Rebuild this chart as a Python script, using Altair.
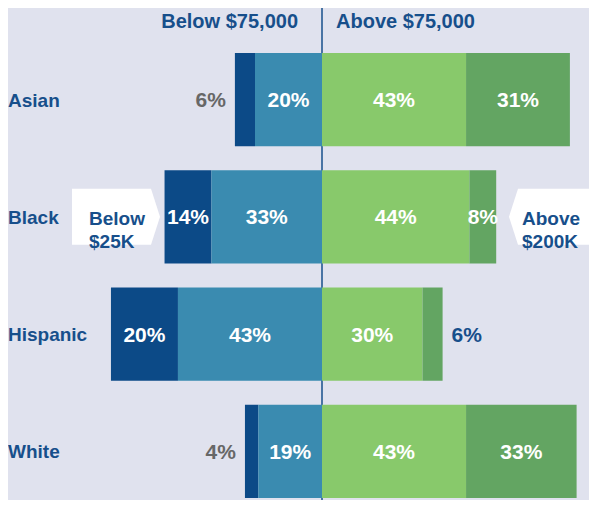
import altair as alt
import pandas as pd

# ---- data ----
groups = ["Asian", "Black", "Hispanic", "White"]
below_25k = [6, 14, 20, 4]
from_25k_to_75k = [20, 33, 43, 19]
from_75k_to_200k = [43, 44, 30, 43]
above_200k = [31, 8, 6, 33]
segments = ["Below $25K", "$25K-$75K", "$75K-$200K", "Above $200K"]
header_left = "Below $75,000"
header_right = "Above $75,000"
callout_left = ["Below", "$25K"]
callout_right = ["Above", "$200K"]

# ---- styling ----
colors = ["#0c4a87", "#3a8bb0", "#88c96b", "#63a562"]
BG = "#e0e2ee"
NAVY = "#174f8b"
GRAY = "#676767"
FONT = "Liberation Sans"
W, H = 581, 492
PX = 3.35          # pixels per percentage point
CENTER = 314       # pixel position of the zero line

rows = []
for i, g in enumerate(groups):
    b1, b2 = below_25k[i], from_25k_to_75k[i]
    a1, a2 = from_75k_to_200k[i], above_200k[i]
    spans = [(-(b1 + b2), -b2), (-b2, 0), (0, a1), (a1, a1 + a2)]
    for seg, val, (s, e) in zip(segments, [b1, b2, a1, a2], spans):
        rows.append(dict(group=g, segment=seg, value=val, start=s, end=e,
                         mid=(s + e) / 2, label=f"{val}%"))
df = pd.DataFrame(rows)
SMALL = 7
inside = df[df.value >= SMALL]
out_left = df[(df.value < SMALL) & (df.end <= 0)]
out_right = df[(df.value < SMALL) & (df.start >= 0)]

xscale = alt.Scale(domain=[-CENTER / PX, (W - CENTER) / PX], nice=False, zero=False)
yscale = alt.Scale(domain=groups, range=[45, 490], paddingInner=0.205,
                   paddingOuter=0, round=False)


def X(f):
    return alt.X(f"{f}:Q", scale=xscale, axis=None)


Y = alt.Y("group:N", scale=yscale, axis=None, sort=groups)

zero_line = alt.Chart(pd.DataFrame({"x": [0]})).mark_rule(
    color=NAVY, strokeWidth=1.5).encode(x=X("x"), y=alt.value(0), y2=alt.value(H))

bars = alt.Chart(df).mark_bar().encode(
    x=X("start"), x2="end", y=Y,
    color=alt.Color("segment:N", scale=alt.Scale(domain=segments, range=colors), legend=None),
)

txt = dict(font=FONT, fontWeight="bold", fontSize=21, baseline="alphabetic", dy=7.5)
lab_in = alt.Chart(inside).mark_text(color="white", align="center", **txt).encode(
    x=X("mid"), y=Y, text="label:N")
lab_left = alt.Chart(out_left).mark_text(color=GRAY, align="right", dx=-9, **txt).encode(
    x=X("start"), y=Y, text="label:N")
lab_right = alt.Chart(out_right).mark_text(color=NAVY, align="left", dx=9, **txt).encode(
    x=X("end"), y=Y, text="label:N")

row_labels = alt.Chart(pd.DataFrame({"group": groups})).mark_text(
    align="left", color=NAVY, font=FONT, fontWeight="bold", fontSize=19,
    baseline="alphabetic", dy=7).encode(x=alt.value(0), y=Y, text="group:N")

hdr = pd.DataFrame({"x": [0], "l": [header_left], "r": [header_right]})
head_l = alt.Chart(hdr).mark_text(align="right", dx=-24, color=NAVY, font=FONT,
                                  fontWeight="bold", fontSize=20, baseline="alphabetic").encode(
    x=X("x"), y=alt.value(20), text="l:N")
head_r = alt.Chart(hdr).mark_text(align="left", dx=14, color=NAVY, font=FONT,
                                  fontWeight="bold", fontSize=20, baseline="alphabetic").encode(
    x=X("x"), y=alt.value(20), text="r:N")

PATH_L = "M-1.5714,-1L1.25,-1L1.5714,0L1.25,1L-1.5714,1Z"
PATH_R = "M-1.768,0L-1.446,-1L1.768,-1L1.768,1L-1.446,1Z"
cdf = pd.DataFrame({"group": ["Black"], "tl": ["\n".join(callout_left)],
                    "tr": ["\n".join(callout_right)]})
box_l = alt.Chart(cdf).mark_point(shape=PATH_L, size=3136, filled=True, color="white",
                                  opacity=1, strokeWidth=0).encode(x=alt.value(108), y=Y)
box_r = alt.Chart(cdf).mark_point(shape=PATH_R, size=3136, filled=True, color="white",
                                  opacity=1, strokeWidth=0).encode(x=alt.value(550.5), y=Y)
ctext = dict(align="left", color=NAVY, font=FONT, fontWeight="bold", fontSize=19,
             lineHeight=23, lineBreak="\n", baseline="middle", dy=2)
ct_l = alt.Chart(cdf).mark_text(**ctext).encode(x=alt.value(81), y=Y, text="tl:N")
ct_r = alt.Chart(cdf).mark_text(**ctext).encode(x=alt.value(514), y=Y, text="tr:N")

chart = alt.layer(
    zero_line, bars, lab_in, lab_left, lab_right, box_l, box_r, ct_l, ct_r,
    row_labels, head_l, head_r,
).properties(
    width=W, height=H, padding=0, background=BG,
    autosize=alt.AutoSizeParams(type="none"),
).configure_view(stroke=None)

chart.save("out.html", embed_options={"renderer": "svg", "actions": False})
